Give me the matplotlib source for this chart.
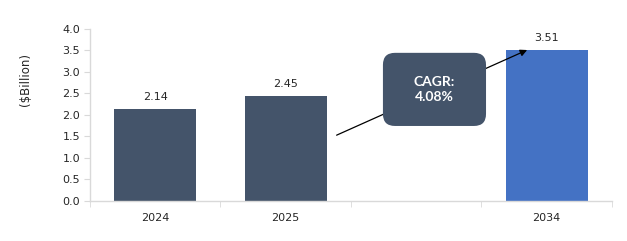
import matplotlib
import matplotlib.pyplot as plt
from matplotlib.patches import FancyBboxPatch

matplotlib.use("Agg")

# Data
years = ["2024", "2025", "", "2034"]
values = [2.14, 2.45, None, 3.51]
bar_colors = ["#44546A", "#44546A", None, "#4472C4"]
cagr_text = "CAGR:\n4.08%"

TEXT = "#262626"
GRID = "#D9D9D9"

fig = plt.figure(figsize=(6.27, 2.41), dpi=100)
ax = fig.add_axes([0.1435, 0.166, 0.8325, 0.714])

xs = list(range(len(years)))
for x, v, c in zip(xs, values, bar_colors):
    if v is None:
        continue
    ax.bar(x, v, width=0.63, color=c, zorder=2)
    ax.annotate(f"{v:.2f}", (x, v), xytext=(0, 5), textcoords="offset points",
                ha="center", va="bottom", fontsize=8, color=TEXT)

ax.set_xlim(-0.5, len(years) - 0.5)
ax.set_ylim(0, 4.0)
ax.set_yticks([i * 0.5 for i in range(9)])
ax.set_yticklabels([f"{i * 0.5:.1f}" for i in range(9)])

# category labels centred, tick marks between categories
ax.set_xticks(xs)
ax.set_xticklabels(years)
ax.set_xticks([x - 0.5 for x in range(len(years) + 1)], minor=True)
ax.tick_params(axis="x", which="major", length=0, pad=9, labelsize=8, labelcolor=TEXT)
ax.tick_params(axis="x", which="minor", length=4, color=GRID, direction="out")
ax.tick_params(axis="y", length=4, color=GRID, labelsize=8, labelcolor=TEXT, pad=3)

for s in ["top", "right"]:
    ax.spines[s].set_visible(False)
for s in ["left", "bottom"]:
    ax.spines[s].set_color(GRID)
    ax.spines[s].set_linewidth(1)

fig.text(0.04, 0.67, "($Billion)", rotation=90, ha="center", va="center",
         fontsize=8.5, color=TEXT)

# CAGR arrow (drawn behind the box)
ax.annotate("", xy=(2.85, 3.51), xytext=(1.39, 1.53),
            arrowprops=dict(arrowstyle="-|>", color="black", lw=0.9,
                            mutation_scale=10, shrinkA=0, shrinkB=0),
            zorder=3)

box = FancyBboxPatch((1.745, 1.744), 0.79, 1.70,
                     boxstyle="round,pad=0,rounding_size=0.092",
                     mutation_aspect=130.5 / 43,
                     facecolor="#44546A", edgecolor="none", zorder=4)
ax.add_patch(box)
ax.text(1.745 + 0.395, 1.744 + 0.85, cagr_text, ha="center", va="center",
        fontsize=10, color="white", fontweight="bold", family="Lato",
        linespacing=1.3, zorder=5)

fig.savefig("out.png", dpi=100)
